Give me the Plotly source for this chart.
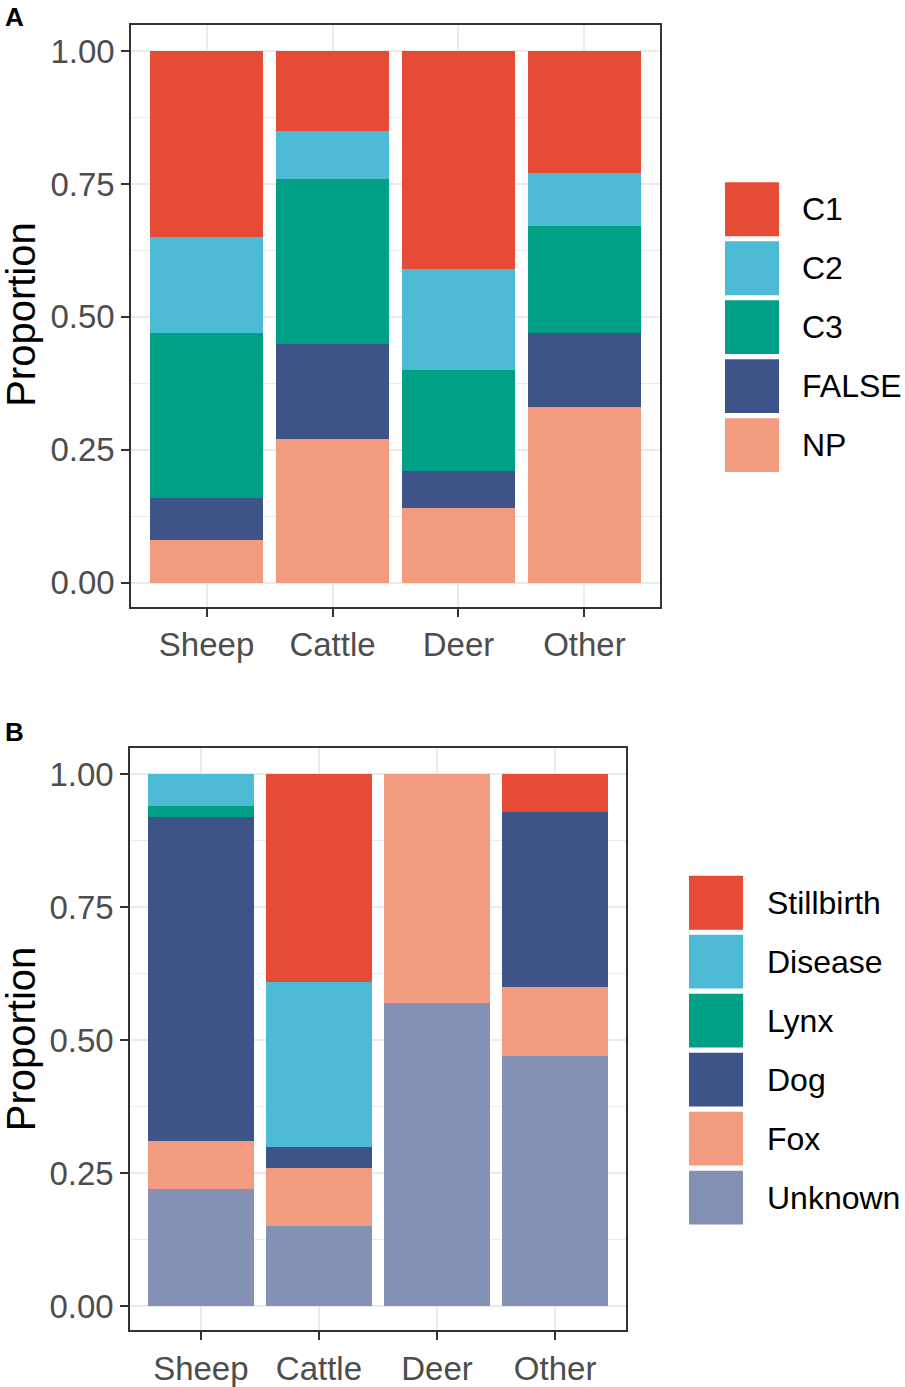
import plotly.graph_objects as go

# ---- data ----
categories = ["Sheep", "Cattle", "Deer", "Other"]

# panel A, bottom to top
a_series = ["NP", "FALSE", "C3", "C2", "C1"]
a_np = [0.08, 0.27, 0.14, 0.33]
a_false = [0.08, 0.18, 0.07, 0.14]
a_c3 = [0.31, 0.31, 0.19, 0.20]
a_c2 = [0.18, 0.09, 0.19, 0.10]
a_c1 = [0.35, 0.15, 0.41, 0.23]

# panel B, bottom to top
b_series = ["Unknown", "Fox", "Dog", "Lynx", "Disease", "Stillbirth"]
b_unknown = [0.22, 0.15, 0.57, 0.47]
b_fox = [0.09, 0.11, 0.43, 0.13]
b_dog = [0.61, 0.04, 0.00, 0.33]
b_lynx = [0.02, 0.00, 0.00, 0.00]
b_disease = [0.06, 0.31, 0.00, 0.00]
b_stillbirth = [0.00, 0.39, 0.00, 0.07]

y_ticks = [0, 0.25, 0.5, 0.75, 1.0]
y_ticklabels = ["0.00", "0.25", "0.50", "0.75", "1.00"]

# npg palette
colors = {
    "C1": "#E64B35", "C2": "#4DBBD5", "C3": "#00A087", "FALSE": "#3C5488", "NP": "#F39B7F",
    "Stillbirth": "#E64B35", "Disease": "#4DBBD5", "Lynx": "#00A087", "Dog": "#3C5488",
    "Fox": "#F39B7F", "Unknown": "#8491B4",
}

W, H = 905, 1387
FONT = "Arial, Liberation Sans, sans-serif"


def px_x(v):
    return v / W


def px_y(v):
    return 1 - v / H


fig = go.Figure()

a_values = [a_np, a_false, a_c3, a_c2, a_c1]
for name, vals in zip(a_series, a_values):
    fig.add_trace(go.Bar(
        x=categories, y=vals, name=name, width=0.9,
        marker=dict(color=colors[name], line=dict(width=0)),
        xaxis="x", yaxis="y", showlegend=False,
    ))

b_values = [b_unknown, b_fox, b_dog, b_lynx, b_disease, b_stillbirth]
for name, vals in zip(b_series, b_values):
    fig.add_trace(go.Bar(
        x=categories, y=vals, name=name, width=0.9,
        marker=dict(color=colors[name], line=dict(width=0)),
        xaxis="x2", yaxis="y2", showlegend=False,
    ))

axis_common = dict(
    showline=True, mirror=True, linecolor="#333333", linewidth=1.5,
    ticks="outside", ticklen=8, tickwidth=2, tickcolor="#333333",
    tickfont=dict(family=FONT, size=33, color="#4D4D4D"),
    showgrid=True, gridcolor="#EBEBEB", gridwidth=1.5, zeroline=False,
)
yaxis_common = dict(
    axis_common, range=[-0.045, 1.049], tickvals=y_ticks, ticktext=y_ticklabels,
    minor=dict(tickvals=[0.125, 0.375, 0.625, 0.875], showgrid=True,
               gridcolor="#EBEBEB", gridwidth=0.8, ticks=""),
)

fig.update_layout(
    width=W, height=H,
    margin=dict(l=0, r=0, t=0, b=0),
    paper_bgcolor="white", plot_bgcolor="white",
    barmode="stack",
    xaxis=dict(axis_common, domain=[px_x(131), px_x(660)], anchor="y",
               range=[-0.6, 3.6], type="category"),
    yaxis=dict(yaxis_common, domain=[px_y(609), px_y(25)], anchor="x"),
    xaxis2=dict(axis_common, domain=[px_x(130), px_x(626)], anchor="y2",
                range=[-0.6, 3.6], type="category"),
    yaxis2=dict(yaxis_common, domain=[px_y(1335), px_y(751)], anchor="x2"),
)

# panel tags and axis titles
for tag, y in [("A", 17), ("B", 735)]:
    fig.add_annotation(text=f"<b>{tag}</b>", xref="paper", yref="paper",
                       x=px_x(3), y=px_y(y), xanchor="left", yanchor="middle",
                       showarrow=False, font=dict(family=FONT, size=26, color="black"))
for y in [316, 1043]:
    fig.add_annotation(text="Proportion", xref="paper", yref="paper",
                       x=px_x(21), y=px_y(y), textangle=-90,
                       xanchor="center", yanchor="middle", showarrow=False,
                       font=dict(family=FONT, size=40, color="black"))

# legends drawn as big keys like ggplot
def add_legend(names, key_x, first_y, step, text_x):
    for i, name in enumerate(names):
        cy = first_y + i * step
        fig.add_shape(type="rect", xref="paper", yref="paper",
                      x0=px_x(key_x), x1=px_x(key_x + 54),
                      y0=px_y(cy + 27), y1=px_y(cy - 27),
                      fillcolor=colors[name], line=dict(width=0))
        fig.add_annotation(text=name, xref="paper", yref="paper",
                           x=px_x(text_x), y=px_y(cy), xanchor="left", yanchor="middle",
                           showarrow=False, font=dict(family=FONT, size=32, color="black"))


add_legend(a_series[::-1], 725, 210, 59.2, 800)
add_legend(b_series[::-1], 689, 906, 59.2, 765)

# drop the default body margin so the figure sits at the window corner
fig.write_html("out.html", config={"displayModeBar": False},
               post_script="document.body.style.margin='0';")
